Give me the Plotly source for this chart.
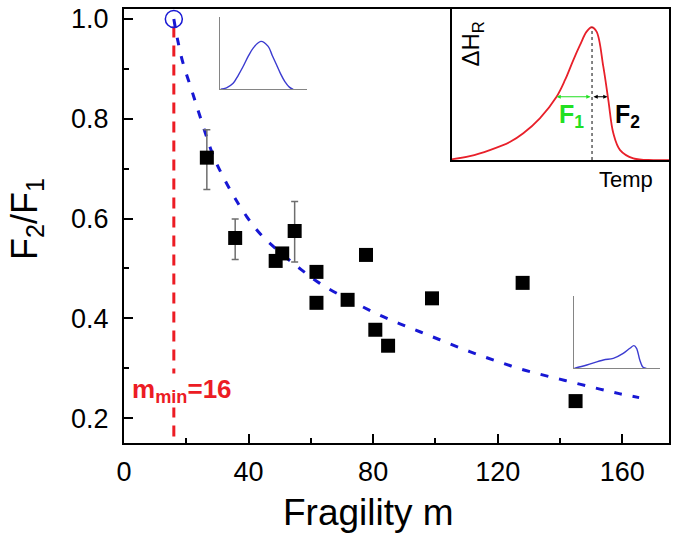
import plotly.graph_objects as go

# ---------------- data ----------------
fragility = [26.6, 35.7, 48.7, 50.8, 54.8, 61.8, 61.8, 71.8, 77.7, 80.7, 84.8, 98.9, 128.0, 145.0]
ratio = [0.722, 0.561, 0.515, 0.530, 0.575, 0.493, 0.431, 0.437, 0.527, 0.377, 0.345, 0.440, 0.471, 0.234]
err_plus = [0.056, 0.038, 0, 0, 0.059, 0, 0, 0, 0, 0, 0, 0, 0, 0]
err_minus = [0.064, 0.043, 0, 0, 0.062, 0, 0, 0, 0, 0, 0, 0, 0, 0]

fit_m = [16.0, 17.1, 18.8, 21.7, 24.4, 28.7, 32.4, 35.6, 39.4, 44.2, 51.1, 57.0, 62.9, 70.4,
         75.7, 82.2, 88.6, 95.0, 101.4, 107.8, 114.2, 120.7, 127.0, 133.5, 139.9, 146.3,
         152.8, 159.0, 165.4]
fit_ratio = [1.000, 0.962, 0.915, 0.858, 0.805, 0.725, 0.677, 0.641, 0.604, 0.566, 0.527, 0.497,
             0.470, 0.443, 0.426, 0.406, 0.389, 0.373, 0.357, 0.341, 0.326, 0.312, 0.299, 0.288,
             0.278, 0.268, 0.258, 0.249, 0.241]

m_min = 16
m_min_ratio = 1.0

x_ticks = [0, 40, 80, 120, 160]
y_ticks = [0.2, 0.4, 0.6, 0.8, 1.0]

# inset (enthalpy relaxation peak), local units
peak_t = [0.0, 0.084, 0.176, 0.268, 0.330, 0.406, 0.483, 0.522, 0.560, 0.591, 0.621, 0.644,
          0.667, 0.698, 0.721, 0.744, 0.775, 0.836, 0.928, 1.0]
peak_h = [0.005, 0.026, 0.066, 0.119, 0.177, 0.276, 0.419, 0.530, 0.662, 0.762, 0.850, 0.879,
          0.850, 0.618, 0.397, 0.177, 0.066, 0.011, 0.0, 0.0]
peak_pos = 0.646
half_level = 0.419
f1_left = 0.483
f2_right = 0.717

# small inset: symmetric peak (strong liquid)
sym_t = [0.0, 0.07, 0.147, 0.205, 0.263, 0.32, 0.380, 0.469, 0.554, 0.60, 0.651, 0.70, 0.748, 0.80, 0.845]
sym_h = [0.0, 0.02, 0.083, 0.19, 0.314, 0.45, 0.568, 0.661, 0.592, 0.47, 0.339, 0.21, 0.106, 0.03, 0.0]

# small inset: asymmetric peak (fragile liquid)
asym_t = [0.0, 0.148, 0.341, 0.457, 0.573, 0.651, 0.698, 0.729, 0.767, 0.806, 0.845]
asym_h = [0.0, 0.046, 0.115, 0.138, 0.207, 0.277, 0.313, 0.277, 0.115, 0.014, 0.0]

FONT = "Arial, Liberation Sans, sans-serif"
BLUE = "#1717d4"
RED = "#ec1c24"

fig = go.Figure()

# red vertical dashed line at m_min
fig.add_trace(go.Scatter(x=[m_min, m_min], y=[0.985, 0.15], mode="lines",
                         line=dict(color=RED, width=3, dash="11px,8px"), showlegend=False))
# fit curve
fig.add_trace(go.Scatter(x=fit_m, y=fit_ratio, mode="lines",
                         line=dict(color=BLUE, width=3, dash="8px,11px", shape="spline"),
                         showlegend=False))
# open circle at m_min
fig.add_trace(go.Scatter(x=[m_min], y=[m_min_ratio], mode="markers",
                         marker=dict(symbol="circle-open", size=17, color=BLUE,
                                     line=dict(width=1.5, color=BLUE)),
                         showlegend=False))
# data
fig.add_trace(go.Scatter(x=fragility, y=ratio, mode="markers",
                         marker=dict(symbol="square", size=14, color="black"),
                         error_y=dict(type="data", symmetric=False, array=err_plus,
                                      arrayminus=err_minus, color="#6e6e6e",
                                      thickness=1.5, width=3.5),
                         showlegend=False))

# insets
fig.add_trace(go.Scatter(x=peak_t, y=peak_h, xaxis="x3", yaxis="y3", mode="lines",
                         line=dict(color="#e8202a", width=1.8, shape="spline"), showlegend=False))
fig.add_trace(go.Scatter(x=sym_t, y=sym_h, xaxis="x4", yaxis="y4", mode="lines",
                         line=dict(color="#3b3bd0", width=1.4, shape="spline"), showlegend=False))
fig.add_trace(go.Scatter(x=asym_t, y=asym_h, xaxis="x5", yaxis="y5", mode="lines",
                         line=dict(color="#3b3bd0", width=1.4, shape="spline"), showlegend=False))

inset_axis = dict(showgrid=False, zeroline=False, showticklabels=False, ticks="",
                  range=[0, 1], fixedrange=True, automargin=False)

fig.update_layout(
    width=675, height=544,
    margin=dict(l=124, r=6, t=9, b=101, autoexpand=False),
    plot_bgcolor="rgba(0,0,0,0)", paper_bgcolor="white",
    font=dict(family=FONT, color="black"),
    xaxis=dict(range=[0, 175], tickvals=x_ticks, showgrid=False, zeroline=False, automargin=False,
               showline=True, linecolor="black", linewidth=2, mirror=True,
               ticks="inside", ticklen=9, tickwidth=2, tickcolor="black",
               minor=dict(ticks="inside", ticklen=5, tickwidth=2, tickcolor="black", dtick=20, tick0=0),
               tickfont=dict(size=27, family=FONT), ticklabelstandoff=4),
    yaxis=dict(range=[0.15, 1.02], tickvals=y_ticks, tickformat=".1f", showgrid=False, zeroline=False,
               automargin=False, ticklabeloverflow="allow",
               showline=True, linecolor="black", linewidth=2, mirror=True,
               ticks="inside", ticklen=9, tickwidth=2, tickcolor="black",
               minor=dict(ticks="inside", ticklen=5, tickwidth=2, tickcolor="black", dtick=0.1, tick0=0),
               tickfont=dict(size=27, family=FONT), ticklabelstandoff=8),
    xaxis3=dict(domain=[0.601, 1.0], anchor="y3", showline=True, linecolor="black", linewidth=1.5,
                **inset_axis),
    yaxis3=dict(domain=[0.652, 1.0], anchor="x3", showline=True, linecolor="black", linewidth=1.5,
                **inset_axis),
    xaxis4=dict(domain=[0.177, 0.335], anchor="y4", showline=True, linecolor="#858585", linewidth=1.2,
                **inset_axis),
    yaxis4=dict(domain=[0.815, 0.982], anchor="x4", showline=True, linecolor="#858585", linewidth=1.2,
                **inset_axis),
    xaxis5=dict(domain=[0.826, 0.983], anchor="y5", showline=True, linecolor="#858585", linewidth=1.2,
                **inset_axis),
    yaxis5=dict(domain=[0.172, 0.339], anchor="x5", showline=True, linecolor="#858585", linewidth=1.2,
                **inset_axis),
)

# dotted line at peak in inset
fig.add_shape(type="line", xref="x3", yref="y3", x0=peak_pos, x1=peak_pos, y0=0, y1=0.879,
              line=dict(color="#333333", width=1.2, dash="dot"))

annotations = [
    # axis titles
    dict(text="Fragility m", xref="paper", yref="paper", x=0.4495, y=-0.161,
         showarrow=False, font=dict(size=37, family=FONT), xanchor="center", yanchor="middle"),
    dict(text="F<sub>2</sub>/F<sub>1</sub>", xref="paper", yref="paper", x=-0.178, y=0.516,
         showarrow=False, textangle=-90, font=dict(size=36, family=FONT),
         xanchor="center", yanchor="middle"),
    # m_min label
    dict(text="<b>m<sub>min</sub>=16</b>", xref="x", yref="y", x=18.6, y=0.256,
         showarrow=False, font=dict(size=26, color=RED, family=FONT), bgcolor="white",
         xanchor="center", yanchor="middle", borderpad=0),
    # inset arrows
    dict(x=f1_left, y=half_level, ax=peak_pos, ay=half_level, xref="x3", yref="y3",
         axref="x3", ayref="y3", text="", showarrow=True, arrowhead=2, arrowside="end+start",
         arrowsize=0.7, arrowwidth=1.2, arrowcolor="#22e022", standoff=0, startstandoff=0),
    dict(x=f2_right, y=half_level, ax=peak_pos, ay=half_level, xref="x3", yref="y3",
         axref="x3", ayref="y3", text="", showarrow=True, arrowhead=2, arrowside="end+start",
         arrowsize=0.7, arrowwidth=1.2, arrowcolor="black", standoff=0, startstandoff=0),
    # inset labels
    dict(text="<b>F<sub>1</sub></b>", xref="x3", yref="y3", x=0.552, y=0.29, showarrow=False,
         font=dict(size=25, color="#22e022", family=FONT)),
    dict(text="<b>F<sub>2</sub></b>", xref="x3", yref="y3", x=0.81, y=0.29, showarrow=False,
         font=dict(size=25, color="black", family=FONT)),
    dict(text="ΔH<sub>R</sub>", xref="x3", yref="y3", x=0.098, y=0.77, showarrow=False,
         textangle=-90, font=dict(size=24, color="black", family=FONT)),
    dict(text="Temp", xref="paper", yref="paper", x=0.922, y=0.606, showarrow=False,
         font=dict(size=22, color="black", family=FONT), xanchor="center", yanchor="middle"),
]
fig.update_layout(annotations=annotations)

# remove the browser's default 8px body margin so the figure sits at the page origin
fig.write_html("out.html", config={"displayModeBar": False},
               post_script="document.body.style.margin='0';")
